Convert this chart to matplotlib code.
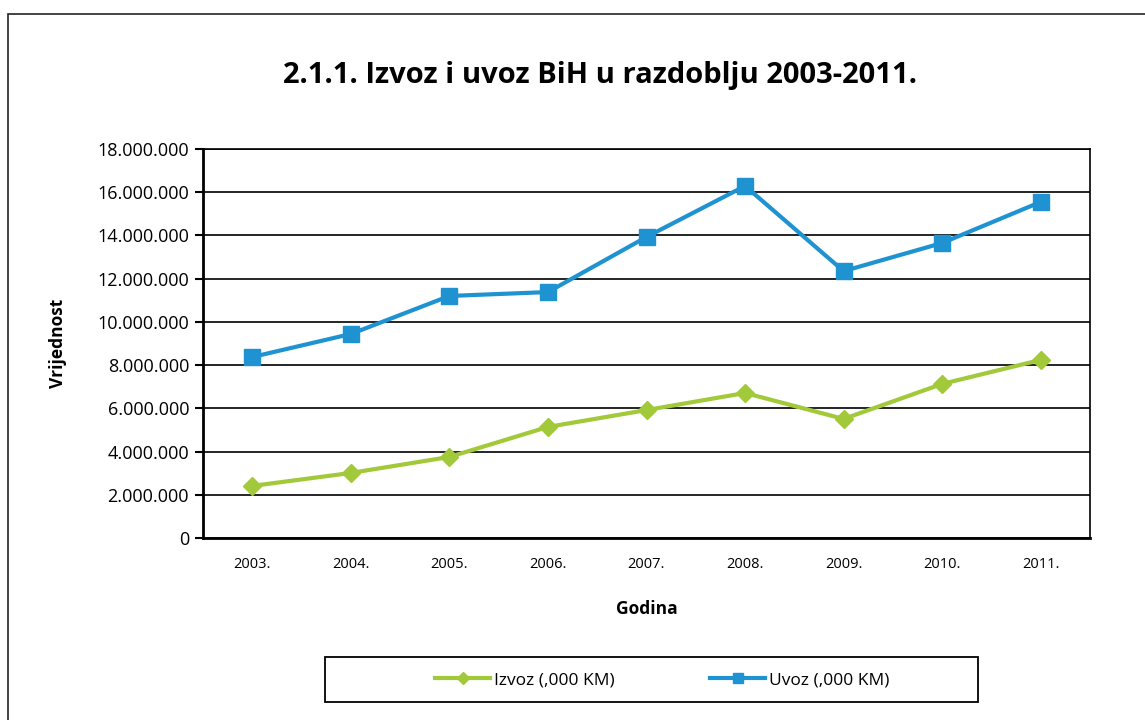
import numpy as np
import matplotlib.pyplot as plt
from matplotlib.patches import Rectangle

plt.rcParams['font.family'] = ['Open Sans', 'DejaVu Sans']

# data
godine = ['2003.', '2004.', '2005.', '2006.', '2007.', '2008.', '2009.', '2010.', '2011.']
izvoz = [2410000, 3010000, 3750000, 5140000, 5920000, 6710000, 5510000, 7130000, 8240000]
uvoz = [8375000, 9440000, 11200000, 11380000, 13930000, 16290000, 12350000, 13650000, 15550000]
yticks = [0, 2000000, 4000000, 6000000, 8000000, 10000000, 12000000, 14000000, 16000000, 18000000]

green = '#a2c93a'
blue = '#1f93d1'

fig = plt.figure(figsize=(11.45, 7.2), dpi=100)
W, H = 1145, 720

# outer frame (right and bottom edges fall outside the image)
fig.patches.append(Rectangle((8 / W, -0.1), 1.2, 1 - 14 / H + 0.1, transform=fig.transFigure,
                             fill=False, edgecolor='#222222', lw=1.2))
# legend box
fig.patches.append(Rectangle((325 / W, 1 - 702 / H), (978 - 325) / W, 45 / H,
                             transform=fig.transFigure, fill=False, edgecolor='black', lw=1.3))

ax = fig.add_axes([203 / W, 1 - 538 / H, (1090 - 203) / W, (538 - 149) / H])
x = np.arange(len(godine))
ax.plot(x, izvoz, color=green, lw=3, marker='D', ms=9, label='Izvoz (,000 KM)', zorder=3)
ax.plot(x, uvoz, color=blue, lw=3, marker='s', ms=11, label='Uvoz (,000 KM)', zorder=3)

ax.set_xlim(-0.5, len(godine) - 0.5)
ax.set_ylim(0, 18000000)
ax.set_yticks(yticks)
ax.set_yticklabels([f'{v:,}'.replace(',', '.') for v in yticks], fontsize=13)
ax.set_xticks(x)
ax.set_xticklabels(godine, fontsize=10.5)
ax.tick_params(axis='x', length=0, pad=14)
ax.tick_params(axis='y', length=6, width=1.5, direction='out', pad=4)
ax.grid(axis='y', color='black', lw=1.2)
ax.set_axisbelow(True)
for s in ax.spines.values():
    s.set_linewidth(1.2)
ax.spines['left'].set_linewidth(2)
ax.spines['bottom'].set_linewidth(2)

ax.set_xlabel('Godina', fontsize=12.5, fontweight='bold', labelpad=20)
ax.set_ylabel('Vrijednost', fontsize=12.5, fontweight='bold', labelpad=22)

fig.text(600 / W, 1 - 75 / H, '2.1.1. Izvoz i uvoz BiH u razdoblju 2003-2011.',
         ha='center', va='center', fontsize=21, fontweight='bold')

fig.legend(loc='center', bbox_to_anchor=(662 / W, 1 - 680 / H), ncol=2,
           fontsize=12.5, frameon=False, columnspacing=5.5, handlelength=3.2,
           handletextpad=0.2, markerscale=0.7)

fig.savefig('out.png', dpi=100)
